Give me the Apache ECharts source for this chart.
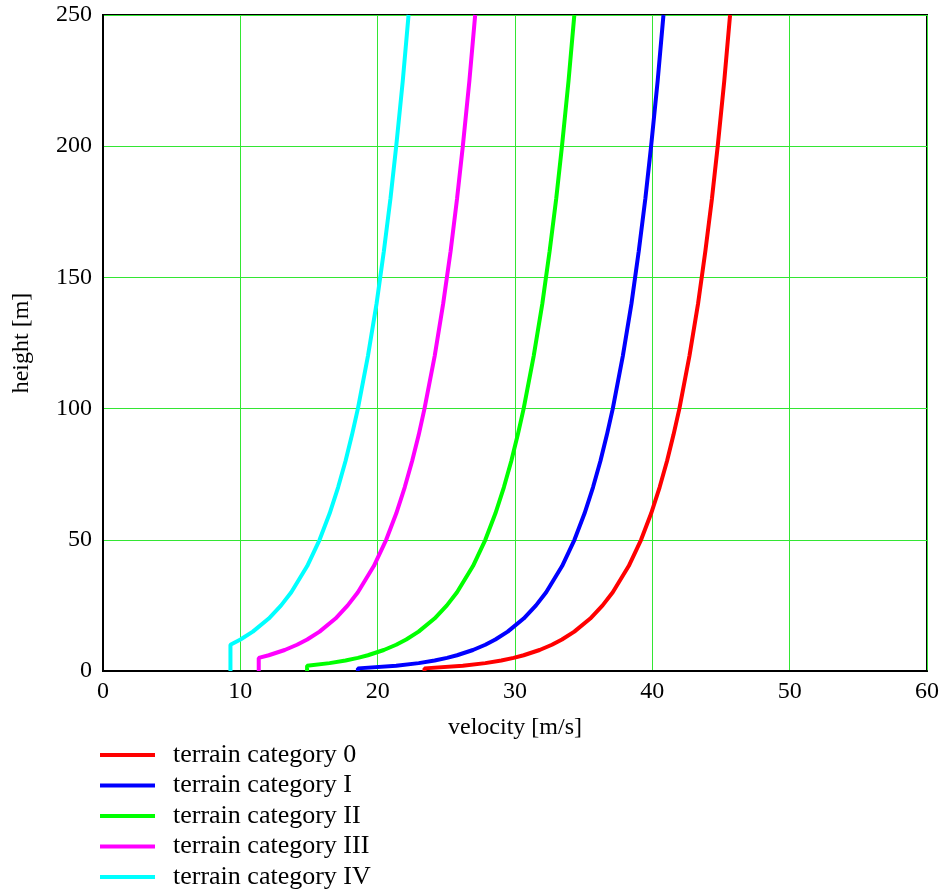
<!DOCTYPE html>
<html><head><meta charset="utf-8">
<script src="https://cdn.jsdelivr.net/npm/echarts@6/dist/echarts.min.js"></script>
<style>html,body{margin:0;padding:0;background:#fff}#c{width:944px;height:893px}</style>
</head><body><div id="c"></div>
<script>
const heights = [0,1,2,3,4,5,6,8,10,12,15,20,25,30,40,50,60,70,80,90,100,120,140,160,180,200,225,250];
const cat0 = [23.41,23.41,26.20,27.84,29.00,29.90,30.63,31.79,32.69,33.42,34.32,35.48,36.38,37.12,38.28,39.18,39.91,40.53,41.07,41.54,41.97,42.70,43.33,43.86,44.34,44.76,45.24,45.66];
const catI = [18.56,18.56,21.35,22.99,24.15,25.05,25.78,26.94,27.84,28.57,29.47,30.63,31.53,32.27,33.43,34.33,35.06,35.68,36.22,36.69,37.12,37.85,38.48,39.01,39.49,39.91,40.39,40.81];
const catII = [14.86,14.86,14.86,16.50,17.66,18.56,19.29,20.45,21.35,22.08,22.98,24.14,25.04,25.78,26.94,27.84,28.57,29.19,29.73,30.20,30.63,31.36,31.99,32.52,33.00,33.42,33.90,34.32];
const catIII = [11.34,11.34,11.34,11.34,11.34,11.34,12.07,13.23,14.13,14.87,15.77,16.93,17.82,18.56,19.72,20.62,21.35,21.97,22.51,22.99,23.41,24.15,24.77,25.31,25.78,26.20,26.68,27.10];
const catIV = [9.28,9.28,9.28,9.28,9.28,9.28,9.28,9.28,9.28,10.01,10.91,12.07,12.97,13.71,14.87,15.77,16.50,17.12,17.66,18.13,18.56,19.29,19.92,20.45,20.93,21.35,21.83,22.25];
const names = ['terrain category 0','terrain category I','terrain category II','terrain category III','terrain category IV'];
const colors = ['#ff0000','#0000ff','#00ff00','#ff00ff','#00ffff'];
const seriesVals = [cat0,catI,catII,catIII,catIV];
const xTicks = [0,10,20,30,40,50,60];
const yTicks = [0,50,100,150,200,250];

const font = 'Liberation Serif, Times New Roman, serif';
const chart = echarts.init(document.getElementById('c'), null, {renderer:'canvas'});
chart.setOption({
  animation:false,
  backgroundColor:'#fff',
  grid:{left:103,right:17,top:15,bottom:222,show:true,borderColor:'#000',borderWidth:2,backgroundColor:'transparent'},
  xAxis:{type:'value',min:xTicks[0],max:xTicks[xTicks.length-1],interval:10,
    name:'velocity [m/s]',nameLocation:'middle',nameGap:45,
    nameTextStyle:{fontFamily:font,fontSize:24,color:'#000'},
    axisLine:{show:true,lineStyle:{color:'#000',width:2}},axisTick:{show:false},
    axisLabel:{fontFamily:font,fontSize:24,color:'#000',margin:9},
    splitLine:{show:true,lineStyle:{color:'#33e633',width:1}}},
  yAxis:{type:'value',min:yTicks[0],max:yTicks[yTicks.length-1],interval:50,
    name:'height [m]',nameLocation:'middle',nameGap:69,nameRotate:90,
    nameTextStyle:{fontFamily:font,fontSize:24,color:'#000'},
    axisLine:{show:true,lineStyle:{color:'#000',width:2}},axisTick:{show:false},
    axisLabel:{fontFamily:font,fontSize:24,color:'#000',margin:11},
    splitLine:{show:true,lineStyle:{color:'#33e633',width:1}}},
  legend:{orient:'vertical',left:100,top:742,padding:0,itemWidth:55,itemHeight:14,itemGap:4.5,
    data:names.map((n,i)=>({name:n,icon:'path://M0,6 L55,6 L55,10 L0,10 Z',itemStyle:{color:colors[i]}})),
    textStyle:{fontFamily:font,fontSize:26,lineHeight:24,color:'#000',padding:[0,0,0,13]}},
  series: names.map((n,i)=>({
    name:n,type:'line',symbol:'none',smooth:false,clip:true,
    lineStyle:{color:colors[i],width:4},itemStyle:{color:colors[i]},
    data: heights.map((h,j)=>[seriesVals[i][j],h])
  }))
});
</script></body></html>
